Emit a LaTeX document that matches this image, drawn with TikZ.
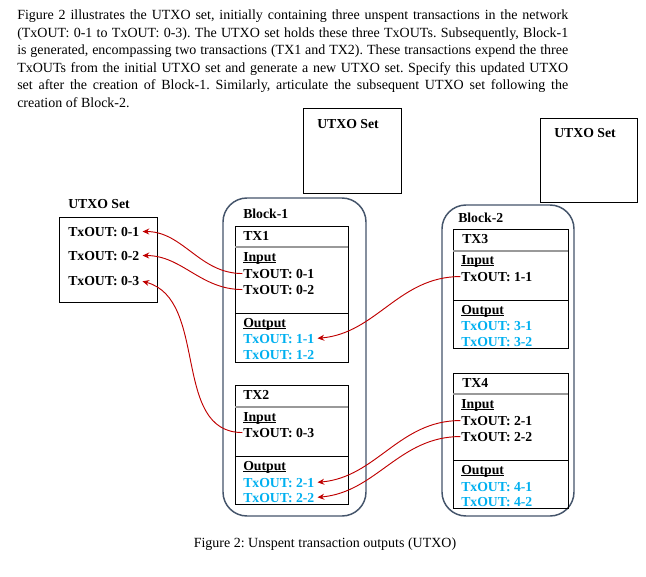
\documentclass[tikz,border=0pt]{standalone}
\usepackage{fontspec}
\setmainfont{Liberation Serif}
\usetikzlibrary{arrows.meta}
\frenchspacing
\definecolor{xblue}{HTML}{00B0F0}
\definecolor{xred}{HTML}{C00000}
\definecolor{xblock}{HTML}{44546A}
\newlength\myulw
\newcommand\myul[1]{\settowidth\myulw{#1}\rlap{\rule[-1.4pt]{\myulw}{0.65pt}}#1}
\tikzset{
  txt/.style={anchor=base west, inner sep=0pt, font=\bfseries\fontsize{10.3}{12}\selectfont},
  outtxt/.style={txt, text=xblue},
  box/.style={draw=black, line width=0.75pt},
  blockbox/.style={draw=xblock, line width=1.1pt, rounded corners=18pt},
  hsep/.style={draw=gray!80, line width=1.2pt},
  osep/.style={draw=black, line width=0.75pt},
  conn/.style={draw=xred, line width=0.7pt, -{Stealth[length=5pt,width=4.5pt]}, shorten >=2.2pt, shorten <=0.5pt}
}
\begin{document}
\begin{tikzpicture}[x=0.75pt,y=-0.75pt]
\useasboundingbox[fill=white] (0,0) rectangle (646,576);

% paragraph
\node[anchor=north west, inner sep=0pt, text width=413.25pt, align=justify,
      font=\fontsize{10.5}{13.1}\selectfont\frenchspacing] (para) at (17,10)
{Figure 2 illustrates the UTXO set, initially containing three unspent transactions in the network\linebreak
(TxOUT: 0-1 to TxOUT: 0-3). The UTXO set holds these three TxOUTs. Subsequently, Block-1\linebreak
is generated, encompassing two transactions (TX1 and TX2). These transactions expend the three\linebreak
TxOUTs from the initial UTXO set and generate a new UTXO set. Specify this updated UTXO\linebreak
set after the creation of Block-1. Similarly, articulate the subsequent UTXO set following the\linebreak
creation of Block-2.\par};

% empty UTXO set boxes
\draw[box] (303,108) rectangle (401,193);
\node[txt] (lab2) at (317,128) {UTXO Set};
\draw[box] (540,118) rectangle (637,202);
\node[txt] (lab3) at (554,137) {UTXO Set};

% initial UTXO set
\node[txt] (lab1) at (68,208) {UTXO Set};
\draw[box] (59,217) rectangle (157,302);
\node[txt] (u01) at (68,236) {TxOUT: 0-1};
\node[txt] (u02) at (68,260) {TxOUT: 0-2};
\node[txt] (u03) at (68,285) {TxOUT: 0-3};

% Block-1
\draw[blockbox] (223,198) rectangle (366,516);
\node[txt] (b1) at (243,218) {Block-1};
% TX1
\draw[box] (235,226) rectangle (348,362);
\draw[hsep] (235,247) -- (348,247);
\draw[osep] (235,313) -- (348,313);
\node[txt] (tx1) at (243,240) {TX1};
\node[txt] (in1) at (243,261) {\myul{Input}};
\node[txt] (i01) at (243,278) {TxOUT: 0-1};
\node[txt] (i02) at (243,294) {TxOUT: 0-2};
\node[txt] (on1) at (243,327) {\myul{Output}};
\node[outtxt] (o11) at (243,343) {TxOUT: 1-1};
\node[outtxt] (o12) at (243,359) {TxOUT: 1-2};
% TX2
\draw[box] (235,385) rectangle (348,504);
\draw[hsep] (235,407) -- (348,407);
\draw[osep] (235,456) -- (348,456);
\node[txt] (tx2) at (243,399) {TX2};
\node[txt] (in2) at (243,421) {\myul{Input}};
\node[txt] (i03) at (243,437) {TxOUT: 0-3};
\node[txt] (on2) at (243,470) {\myul{Output}};
\node[outtxt] (o21) at (243,487) {TxOUT: 2-1};
\node[outtxt] (o22) at (243,502) {TxOUT: 2-2};

% Block-2
\draw[blockbox] (442,205) rectangle (574,516);
\node[txt] (b2) at (458,222) {Block-2};
% TX3
\draw[box] (453,229) rectangle (568,348);
\draw[hsep] (453,251) -- (568,251);
\draw[osep] (453,300) -- (568,300);
\node[txt] (tx3) at (462,243) {TX3};
\node[txt] (in3) at (461,264) {\myul{Input}};
\node[txt] (i11) at (461,281) {TxOUT: 1-1};
\node[txt] (on3) at (461,314) {\myul{Output}};
\node[outtxt] (o31) at (461,330) {TxOUT: 3-1};
\node[outtxt] (o32) at (461,346) {TxOUT: 3-2};
% TX4
\draw[box] (453,373) rectangle (568,508);
\draw[hsep] (453,394) -- (568,394);
\draw[osep] (453,460) -- (568,460);
\node[txt] (tx4) at (462,387) {TX4};
\node[txt] (in4) at (461,408) {\myul{Input}};
\node[txt] (i21) at (461,425) {TxOUT: 2-1};
\node[txt] (i22) at (461,441) {TxOUT: 2-2};
\node[txt] (on4) at (461,474) {\myul{Output}};
\node[outtxt] (o41) at (461,491) {TxOUT: 4-1};
\node[outtxt] (o42) at (461,506) {TxOUT: 4-2};

% connectors
\draw[conn] (i01.west) to[out=180,in=0] (u01.east);
\draw[conn] (i02.west) to[out=180,in=0] (u02.east);
\draw[conn] (i03.west) to[out=180,in=-15] (u03.east);
\draw[conn] (i11.west) to[out=180,in=5] (o11.east);
\draw[conn] (i21.west) to[out=180,in=5] (o21.east);
\draw[conn] (i22.west) to[out=180,in=5] (o22.east);

% caption
\node[anchor=base, inner sep=0pt, font=\fontsize{10.5}{13}\selectfont] (cap) at (325,547)
{Figure 2: Unspent transaction outputs (UTXO)};
\end{tikzpicture}
\end{document}
